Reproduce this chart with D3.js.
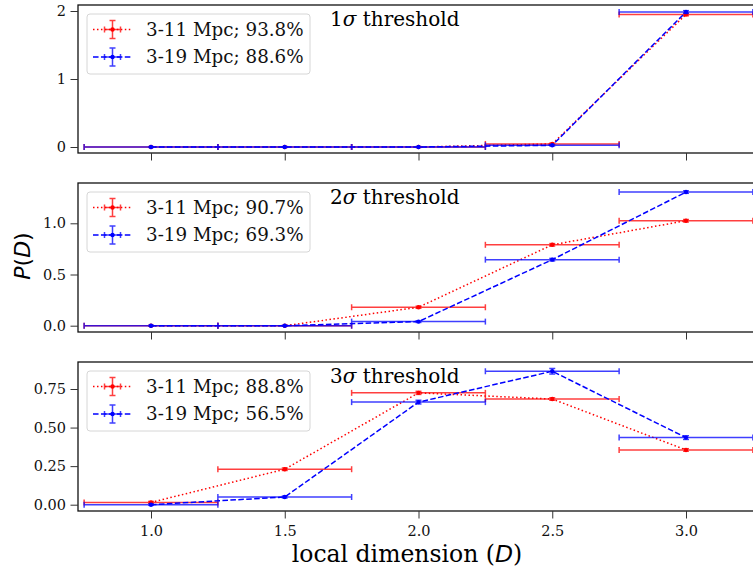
<!DOCTYPE html>
<html>
<head>
<meta charset="utf-8">
<script src="https://cdn.jsdelivr.net/npm/d3@7"></script>
<style>
  html, body { margin: 0; padding: 0; background: #fff; }
  svg { display: block; }
  text { font-family: "DejaVu Serif", serif; }
</style>
</head>
<body>
<svg id="chart" width="753" height="574"></svg>
<script>
// ---------------- data ----------------
const dimCenters = [1.0, 1.5, 2.0, 2.5, 3.0];
const dimHalfWidth = [0.25, 0.25, 0.25, 0.25, 0.25];
const xTicks = [1.0, 1.5, 2.0, 2.5, 3.0];

const thresholds = ["1", "2", "3"];

const red1 = [0, 0, 0, 0.045, 1.95];
const blue1 = [0, 0, 0, 0.025, 1.985];
const red1Err = [0.005, 0.005, 0.005, 0.012, 0.02];
const blue1Err = [0.005, 0.005, 0.005, 0.01, 0.02];

const red2 = [0, 0, 0.18, 0.79, 1.025];
const blue2 = [0, 0, 0.04, 0.645, 1.305];
const red2Err = [0.003, 0.003, 0.01, 0.012, 0.012];
const blue2Err = [0.003, 0.003, 0.008, 0.012, 0.012];

const red3 = [0.015, 0.23, 0.725, 0.685, 0.355];
const blue3 = [0, 0.05, 0.665, 0.865, 0.435];
const red3Err = [0.006, 0.008, 0.01, 0.008, 0.008];
const blue3Err = [0.004, 0.006, 0.012, 0.018, 0.012];

const redLabels = ["3-11 Mpc; 93.8%", "3-11 Mpc; 90.7%", "3-11 Mpc; 88.8%"];
const blueLabels = ["3-19 Mpc; 88.6%", "3-19 Mpc; 69.3%", "3-19 Mpc; 56.5%"];

const yTicks1 = [0, 1, 2];
const yTickLabels1 = ["0", "1", "2"];
const yTicks2 = [0, 0.5, 1.0];
const yTickLabels2 = ["0.0", "0.5", "1.0"];
const yTicks3 = [0, 0.25, 0.5, 0.75];
const yTickLabels3 = ["0.00", "0.25", "0.50", "0.75"];

// ---------------- layout ----------------
const svg = d3.select("#chart");
const axLeft = 78, axRight = 780;
const x = d3.scaleLinear().domain([1.0, 3.0]).range([151, 686]);

const panels = [
  { top: 5, bottom: 153, y: d3.scaleLinear().domain([0, 2]).range([147, 11]),
    red: red1, blue: blue1, redErr: red1Err, blueErr: blue1Err,
    ticks: yTicks1, tickLabels: yTickLabels1, showX: false },
  { top: 183, bottom: 332, y: d3.scaleLinear().domain([0, 1]).range([325.7, 223.3]),
    red: red2, blue: blue2, redErr: red2Err, blueErr: blue2Err,
    ticks: yTicks2, tickLabels: yTickLabels2, showX: false },
  { top: 362, bottom: 511, y: d3.scaleLinear().domain([0, 0.75]).range([504.7, 389]),
    red: red3, blue: blue3, redErr: red3Err, blueErr: blue3Err,
    ticks: yTicks3, tickLabels: yTickLabels3, showX: true }
];

const RED = "#ff0000", BLUE = "#0000ff";
const lw = 1.5;
const dotted = `${1*lw},${1.65*lw}`;
const dashed = `${3.7*lw},${1.6*lw}`;

panels.forEach((p, i) => {
  const g = svg.append("g");
  const clipId = "clip" + i;
  svg.append("defs").append("clipPath").attr("id", clipId)
    .append("rect").attr("x", axLeft).attr("y", p.top)
    .attr("width", axRight - axLeft).attr("height", p.bottom - p.top);

  const plot = g.append("g").attr("clip-path", `url(#${clipId})`);

  const series = [
    { vals: p.red, err: p.redErr, color: RED, dash: dotted },
    { vals: p.blue, err: p.blueErr, color: BLUE, dash: dashed }
  ];

  series.forEach(s => {
    const pts = dimCenters.map((c, k) => ({ c, v: s.vals[k], xe: dimHalfWidth[k], ye: s.err[k] }));
    const eb = plot.append("g").attr("stroke", s.color).attr("stroke-width", 1.5).attr("opacity", 0.75);
    pts.forEach(d => {
      const yy = p.y(d.v);
      const x0 = x(d.c - d.xe), x1 = x(d.c + d.xe);
      eb.append("line").attr("x1", x0).attr("x2", x1).attr("y1", yy).attr("y2", yy);
      eb.append("line").attr("x1", x0).attr("x2", x0).attr("y1", yy - 3).attr("y2", yy + 3);
      eb.append("line").attr("x1", x1).attr("x2", x1).attr("y1", yy - 3).attr("y2", yy + 3);
      const ya = p.y(d.v + d.ye), yb = p.y(d.v - d.ye);
      const xc = x(d.c);
      eb.append("line").attr("x1", xc).attr("x2", xc).attr("y1", ya).attr("y2", yb);
      eb.append("line").attr("x1", xc - 3).attr("x2", xc + 3).attr("y1", ya).attr("y2", ya);
      eb.append("line").attr("x1", xc - 3).attr("x2", xc + 3).attr("y1", yb).attr("y2", yb);
    });
    const line = d3.line().x(d => x(d.c)).y(d => p.y(d.v));
    plot.append("path").datum(pts).attr("d", line)
      .attr("fill", "none").attr("stroke", s.color).attr("stroke-width", lw)
      .attr("stroke-dasharray", s.dash);
    plot.selectAll(null).data(pts).enter().append("circle")
      .attr("cx", d => x(d.c)).attr("cy", d => p.y(d.v)).attr("r", 2.2)
      .attr("fill", s.color);
  });

  // spines
  g.append("rect").attr("x", axLeft).attr("y", p.top)
    .attr("width", axRight - axLeft).attr("height", p.bottom - p.top)
    .attr("fill", "none").attr("stroke", "#111").attr("stroke-width", 1.3);

  // y axis
  const yAxis = d3.axisLeft(p.y).tickValues(p.ticks)
    .tickFormat((d, k) => p.tickLabels[k]).tickSize(7.5).tickPadding(4.5);
  const ya = g.append("g").attr("transform", `translate(${axLeft},0)`).call(yAxis);
  ya.select(".domain").remove();
  ya.selectAll(".tick line").attr("stroke", "#333").attr("stroke-width", 1);
  ya.selectAll(".tick text").attr("font-family", "DejaVu Serif").attr("font-size", 14.5).attr("fill", "#111");

  // x axis
  const xAxis = d3.axisBottom(x).tickValues(xTicks)
    .tickFormat(p.showX ? d3.format(".1f") : () => "").tickSize(7.5).tickPadding(7);
  const xa = g.append("g").attr("transform", `translate(0,${p.bottom})`).call(xAxis);
  xa.select(".domain").remove();
  xa.selectAll(".tick line").attr("stroke", "#333").attr("stroke-width", 1);
  xa.selectAll(".tick text").attr("font-family", "DejaVu Serif").attr("font-size", 14.5).attr("fill", "#111");

  // title inside
  const t = g.append("text").attr("x", 330).attr("y", p.top + 21)
    .attr("font-size", 20).attr("fill", "#000");
  t.append("tspan").text(thresholds[i]);
  t.append("tspan").attr("font-style", "italic").text("σ");
  t.append("tspan").text(" threshold");

  // legend
  const lg = g.append("g").attr("transform", `translate(87,${p.top + 9})`);
  lg.append("rect").attr("x", 0).attr("y", 0).attr("width", 223).attr("height", 60)
    .attr("rx", 3).attr("fill", "#fff").attr("fill-opacity", 0.8)
    .attr("stroke", "#d6d6d6").attr("stroke-width", 1);
  const rows = [
    { label: redLabels[i], color: RED, dash: dotted, cy: 15.5 },
    { label: blueLabels[i], color: BLUE, dash: dashed, cy: 43 }
  ];
  rows.forEach(r => {
    const hx0 = 6, hx1 = 45, hc = 25.5;
    lg.append("line").attr("x1", hx0).attr("x2", hx1).attr("y1", r.cy).attr("y2", r.cy)
      .attr("stroke", r.color).attr("stroke-width", lw).attr("stroke-dasharray", r.dash);
    const e = lg.append("g").attr("stroke", r.color).attr("stroke-width", 1.5).attr("opacity", 0.75);
    e.append("line").attr("x1", hc - 8).attr("x2", hc + 8).attr("y1", r.cy).attr("y2", r.cy);
    e.append("line").attr("x1", hc - 8).attr("x2", hc - 8).attr("y1", r.cy - 3).attr("y2", r.cy + 3);
    e.append("line").attr("x1", hc + 8).attr("x2", hc + 8).attr("y1", r.cy - 3).attr("y2", r.cy + 3);
    e.append("line").attr("x1", hc).attr("x2", hc).attr("y1", r.cy - 9).attr("y2", r.cy + 9);
    e.append("line").attr("x1", hc - 3).attr("x2", hc + 3).attr("y1", r.cy - 9).attr("y2", r.cy - 9);
    e.append("line").attr("x1", hc - 3).attr("x2", hc + 3).attr("y1", r.cy + 9).attr("y2", r.cy + 9);
    lg.append("circle").attr("cx", hc).attr("cy", r.cy).attr("r", 2.2).attr("fill", r.color);
    lg.append("text").attr("x", 59).attr("y", r.cy).attr("dy", "0.35em")
      .attr("font-size", 18.3).attr("fill", "#111").text(r.label);
  });
});

// axis labels
const xl = svg.append("text").attr("x", 407).attr("y", 562).attr("text-anchor", "middle")
  .attr("font-size", 23.5).attr("fill", "#000");
xl.append("tspan").text("local dimension (");
xl.append("tspan").attr("font-family", "DejaVu Sans").attr("font-style", "italic").text("D");
xl.append("tspan").text(")");

const yl = svg.append("text").attr("transform", "translate(30,256) rotate(-90)")
  .attr("text-anchor", "middle").attr("font-size", 22).attr("fill", "#000");
yl.append("tspan").attr("font-family", "DejaVu Sans").attr("font-style", "italic").text("P");
yl.append("tspan").attr("font-family", "DejaVu Sans").text("(");
yl.append("tspan").attr("font-family", "DejaVu Sans").attr("font-style", "italic").text("D");
yl.append("tspan").attr("font-family", "DejaVu Sans").text(")");
</script>
</body>
</html>
